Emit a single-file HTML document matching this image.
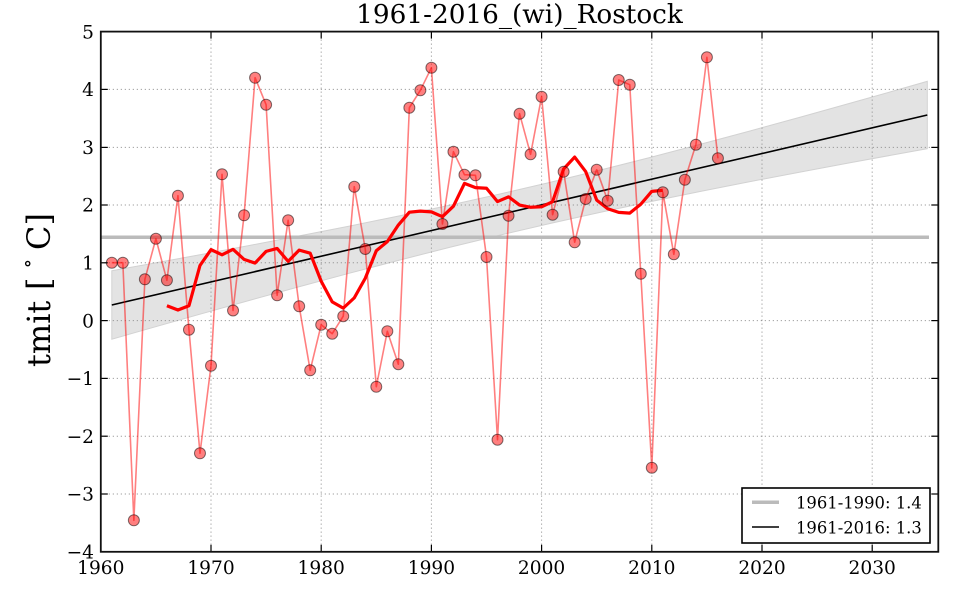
<!DOCTYPE html>
<html>
<head>
<meta charset="utf-8">
<style>
html,body{margin:0;padding:0;background:#fff;}
svg{display:block;}
text{font-family:"DejaVu Serif","Liberation Serif",serif;fill:#000;}
</style>
</head>
<body>
<svg width="960" height="600" viewBox="0 0 960 600" xmlns="http://www.w3.org/2000/svg">
<rect x="0" y="0" width="960" height="600" fill="#fff"/>

<!-- confidence band -->
<polygon fill="#e3e3e3" stroke="#d2d2d2" stroke-width="1"
points="111.8,270.78 150,263.87 200,254.71 250,245.36 300,235.8 350,225.95 400,215.74 450,205.11 500,194.0 550,182.35 600,170.17 650,157.5 700,144.41 750,130.96 800,117.22 850,103.28 900,89.14 927.3,81.35 927.3,148.65 900,153.6 850,162.76 800,172.1 750,181.66 700,191.51 650,201.72 600,212.35 550,223.47 500,235.12 450,247.29 400,259.96 350,273.05 300,286.5 250,300.24 200,314.19 150,328.33 111.8,339.22"/>

<!-- grid -->
<g stroke="#888" stroke-width="1" stroke-dasharray="1,3" fill="none">
<line x1="211" y1="31.6" x2="211" y2="551.8"/>
<line x1="321.2" y1="31.6" x2="321.2" y2="551.8"/>
<line x1="431.4" y1="31.6" x2="431.4" y2="551.8"/>
<line x1="541.6" y1="31.6" x2="541.6" y2="551.8"/>
<line x1="651.8" y1="31.6" x2="651.8" y2="551.8"/>
<line x1="762" y1="31.6" x2="762" y2="551.8"/>
<line x1="872.2" y1="31.6" x2="872.2" y2="551.8"/>
<line x1="100.8" y1="89.4" x2="938.3" y2="89.4"/>
<line x1="100.8" y1="147.4" x2="938.3" y2="147.4"/>
<line x1="100.8" y1="205" x2="938.3" y2="205"/>
<line x1="100.8" y1="262.8" x2="938.3" y2="262.8"/>
<line x1="100.8" y1="320.6" x2="938.3" y2="320.6"/>
<line x1="100.8" y1="378.4" x2="938.3" y2="378.4"/>
<line x1="100.8" y1="436.2" x2="938.3" y2="436.2"/>
<line x1="100.8" y1="494" x2="938.3" y2="494"/>
</g>

<!-- 1961-1990 mean -->
<line x1="100.8" y1="237.3" x2="929" y2="237.3" stroke="#bbbbbb" stroke-width="3.5"/>

<!-- regression line -->
<line x1="111.8" y1="305" x2="927.3" y2="115" stroke="#000" stroke-width="1.6"/>

<!-- yearly values line -->
<polyline fill="none" stroke="#ff0000" stroke-opacity="0.5" stroke-width="1.6" stroke-linejoin="round"
points="111.82,262.7 122.84,262.7 133.86,520.3 144.88,279.3 155.9,238.7 166.92,280.3 177.94,195.7 188.96,329.7 199.98,453.3 211.0,365.7 222.02,174.3 233.04,310.5 244.06,215.3 255.08,77.7 266.1,104.7 277.12,295.3 288.14,220.3 299.16,306.3 310.18,370.3 321.2,324.7 332.22,333.7 343.24,316.2 354.26,186.7 365.28,249 376.3,386.7 387.32,331.3 398.34,364.2 409.36,107.7 420.38,90.3 431.4,67.7 442.42,224 453.44,151.7 464.46,174.7 475.48,175.3 486.5,257 497.52,439.7 508.54,215.7 519.56,113.7 530.58,154.3 541.6,96.7 552.62,214.7 563.64,171.7 574.66,242.3 585.68,199 596.7,169.7 607.72,200.7 618.74,80 629.76,84.7 640.78,273.7 651.8,467.7 662.82,192.3 673.84,254.3 684.86,179.7 695.88,144.7 706.9,57.3 717.92,158.3"/>

<!-- running mean -->
<polyline fill="none" stroke="#ff0000" stroke-width="3.2" stroke-linejoin="round"
points="166.92,305.7 177.94,310.05 188.96,305.74 199.98,265.5 211.0,249.63 222.02,254.77 233.04,249.32 244.06,259.37 255.08,263.06 266.1,251.37 277.12,248.46 288.14,261.36 299.16,250.11 310.18,253.17 321.2,281.26 332.22,301.86 343.24,308.13 354.26,297.89 365.28,278.25 376.3,250.75 387.32,241.59 398.34,225.05 409.36,212.18 420.38,211.15 431.4,211.87 442.42,216.69 453.44,206.18 464.46,183.41 475.48,187.65 486.5,188.23 497.52,201.59 508.54,196.84 519.56,205.07 530.58,207.28 541.6,206.77 552.62,201.65 563.64,168.95 574.66,157.05 585.68,171.59 596.7,200.08 607.72,208.77 618.74,212.37 629.76,213.1 640.78,204.23 651.8,191.35 662.82,190.31"/>

<!-- markers -->
<g fill="#ff0000" fill-opacity="0.5" stroke="#000" stroke-opacity="0.5" stroke-width="1">
<circle cx="111.82" cy="262.7" r="5.5"/><circle cx="122.84" cy="262.7" r="5.5"/><circle cx="133.86" cy="520.3" r="5.5"/><circle cx="144.88" cy="279.3" r="5.5"/><circle cx="155.9" cy="238.7" r="5.5"/><circle cx="166.92" cy="280.3" r="5.5"/><circle cx="177.94" cy="195.7" r="5.5"/><circle cx="188.96" cy="329.7" r="5.5"/><circle cx="199.98" cy="453.3" r="5.5"/><circle cx="211.0" cy="365.7" r="5.5"/>
<circle cx="222.02" cy="174.3" r="5.5"/><circle cx="233.04" cy="310.5" r="5.5"/><circle cx="244.06" cy="215.3" r="5.5"/><circle cx="255.08" cy="77.7" r="5.5"/><circle cx="266.1" cy="104.7" r="5.5"/><circle cx="277.12" cy="295.3" r="5.5"/><circle cx="288.14" cy="220.3" r="5.5"/><circle cx="299.16" cy="306.3" r="5.5"/><circle cx="310.18" cy="370.3" r="5.5"/><circle cx="321.2" cy="324.7" r="5.5"/>
<circle cx="332.22" cy="333.7" r="5.5"/><circle cx="343.24" cy="316.2" r="5.5"/><circle cx="354.26" cy="186.7" r="5.5"/><circle cx="365.28" cy="249" r="5.5"/><circle cx="376.3" cy="386.7" r="5.5"/><circle cx="387.32" cy="331.3" r="5.5"/><circle cx="398.34" cy="364.2" r="5.5"/><circle cx="409.36" cy="107.7" r="5.5"/><circle cx="420.38" cy="90.3" r="5.5"/><circle cx="431.4" cy="67.7" r="5.5"/>
<circle cx="442.42" cy="224" r="5.5"/><circle cx="453.44" cy="151.7" r="5.5"/><circle cx="464.46" cy="174.7" r="5.5"/><circle cx="475.48" cy="175.3" r="5.5"/><circle cx="486.5" cy="257" r="5.5"/><circle cx="497.52" cy="439.7" r="5.5"/><circle cx="508.54" cy="215.7" r="5.5"/><circle cx="519.56" cy="113.7" r="5.5"/><circle cx="530.58" cy="154.3" r="5.5"/><circle cx="541.6" cy="96.7" r="5.5"/>
<circle cx="552.62" cy="214.7" r="5.5"/><circle cx="563.64" cy="171.7" r="5.5"/><circle cx="574.66" cy="242.3" r="5.5"/><circle cx="585.68" cy="199" r="5.5"/><circle cx="596.7" cy="169.7" r="5.5"/><circle cx="607.72" cy="200.7" r="5.5"/><circle cx="618.74" cy="80" r="5.5"/><circle cx="629.76" cy="84.7" r="5.5"/><circle cx="640.78" cy="273.7" r="5.5"/><circle cx="651.8" cy="467.7" r="5.5"/>
<circle cx="662.82" cy="192.3" r="5.5"/><circle cx="673.84" cy="254.3" r="5.5"/><circle cx="684.86" cy="179.7" r="5.5"/><circle cx="695.88" cy="144.7" r="5.5"/><circle cx="706.9" cy="57.3" r="5.5"/><circle cx="717.92" cy="158.3" r="5.5"/>
</g>

<!-- ticks -->
<g stroke="#000" stroke-width="1.2">
<line x1="211" y1="551.8" x2="211" y2="544.8"/><line x1="321.2" y1="551.8" x2="321.2" y2="544.8"/><line x1="431.4" y1="551.8" x2="431.4" y2="544.8"/><line x1="541.6" y1="551.8" x2="541.6" y2="544.8"/><line x1="651.8" y1="551.8" x2="651.8" y2="544.8"/><line x1="762" y1="551.8" x2="762" y2="544.8"/><line x1="872.2" y1="551.8" x2="872.2" y2="544.8"/>
<line x1="211" y1="31.6" x2="211" y2="38.6"/><line x1="321.2" y1="31.6" x2="321.2" y2="38.6"/><line x1="431.4" y1="31.6" x2="431.4" y2="38.6"/><line x1="541.6" y1="31.6" x2="541.6" y2="38.6"/><line x1="651.8" y1="31.6" x2="651.8" y2="38.6"/><line x1="762" y1="31.6" x2="762" y2="38.6"/><line x1="872.2" y1="31.6" x2="872.2" y2="38.6"/>
<line x1="100.8" y1="89.4" x2="107.8" y2="89.4"/><line x1="100.8" y1="147.4" x2="107.8" y2="147.4"/><line x1="100.8" y1="205" x2="107.8" y2="205"/><line x1="100.8" y1="262.8" x2="107.8" y2="262.8"/><line x1="100.8" y1="320.6" x2="107.8" y2="320.6"/><line x1="100.8" y1="378.4" x2="107.8" y2="378.4"/><line x1="100.8" y1="436.2" x2="107.8" y2="436.2"/><line x1="100.8" y1="494" x2="107.8" y2="494"/>
<line x1="938.3" y1="89.4" x2="931.3" y2="89.4"/><line x1="938.3" y1="147.4" x2="931.3" y2="147.4"/><line x1="938.3" y1="205" x2="931.3" y2="205"/><line x1="938.3" y1="262.8" x2="931.3" y2="262.8"/><line x1="938.3" y1="320.6" x2="931.3" y2="320.6"/><line x1="938.3" y1="378.4" x2="931.3" y2="378.4"/><line x1="938.3" y1="436.2" x2="931.3" y2="436.2"/><line x1="938.3" y1="494" x2="931.3" y2="494"/>
</g>

<!-- axes frame -->
<rect x="100.8" y="31.6" width="837.5" height="520.2" fill="none" stroke="#111" stroke-width="1.8"/>

<!-- y tick labels -->
<g font-size="18.6" text-anchor="end">
<text x="94" y="38.3">5</text>
<text x="94" y="96.1">4</text>
<text x="94" y="154.1">3</text>
<text x="94" y="211.7">2</text>
<text x="94" y="269.5">1</text>
<text x="94" y="327.3">0</text>
<text x="94" y="385.1">−1</text>
<text x="94" y="442.9">−2</text>
<text x="94" y="500.7">−3</text>
<text x="94" y="558.5">−4</text>
</g>

<!-- x tick labels -->
<g font-size="18.6" text-anchor="middle">
<text x="100.8" y="574">1960</text>
<text x="211" y="574">1970</text>
<text x="321.2" y="574">1980</text>
<text x="431.4" y="574">1990</text>
<text x="541.6" y="574">2000</text>
<text x="651.8" y="574">2010</text>
<text x="762" y="574">2020</text>
<text x="872.2" y="574">2030</text>
</g>

<!-- title -->
<text x="519.5" y="23" font-size="26.3" text-anchor="middle">1961-2016_(wi)_Rostock</text>

<!-- y label -->
<g transform="translate(50,0) rotate(-90)">
<text x="-367" y="0" font-size="32">tmit</text>
<text x="-290" y="0" font-size="32">[</text>
<text x="-268.5" y="-16" font-size="20">∘</text>
<text x="-250" y="0" font-size="32">C]</text>
</g>

<!-- legend -->
<rect x="742" y="488" width="188" height="55" fill="#fff" stroke="#000" stroke-width="1.6"/>
<line x1="752" y1="502.3" x2="779" y2="502.3" stroke="#bbbbbb" stroke-width="3.5"/>
<line x1="752" y1="527" x2="779" y2="527" stroke="#000" stroke-width="1.6"/>
<text x="796" y="508.3" font-size="16.4">1961-1990: 1.4</text>
<text x="796" y="533.3" font-size="16.4">1961-2016: 1.3</text>
</svg>
</body>
</html>
